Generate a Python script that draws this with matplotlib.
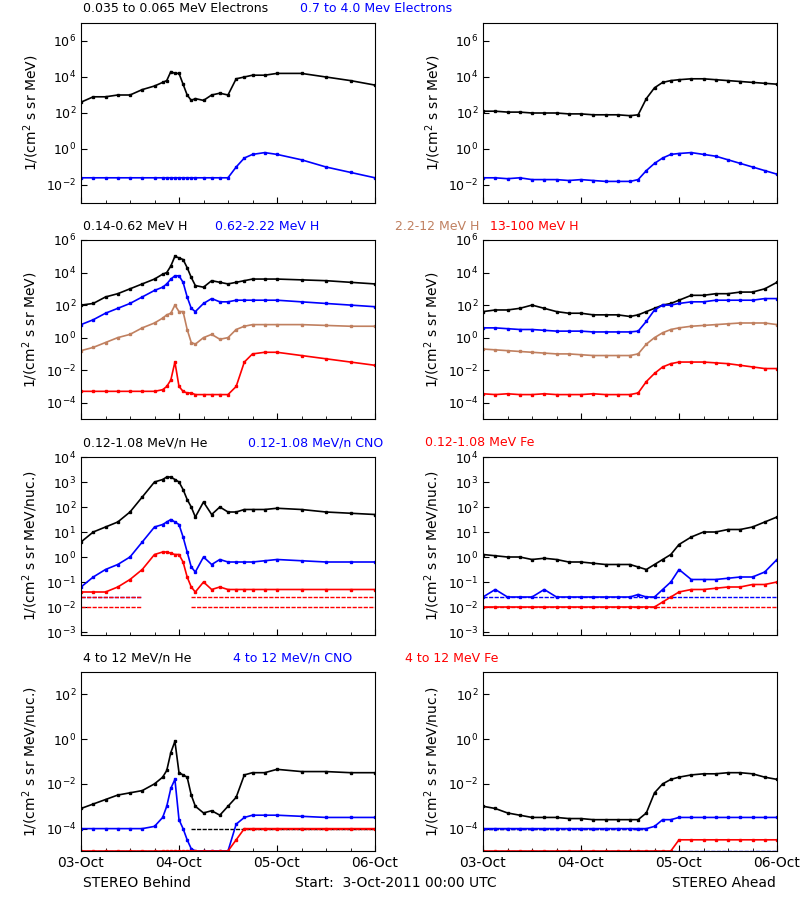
import numpy as np
import matplotlib
matplotlib.use('Agg')
from matplotlib import pyplot as plt

plt.rcParams['font.family'] = 'DejaVu Sans'
plt.rcParams['font.size'] = 9

# hours since 03-Oct-2011 00:00, left = STEREO Behind, right = STEREO Ahead
tL = [0, 3, 6, 9, 12, 15, 18, 20, 21, 22, 23, 24, 25, 26, 27, 28, 30, 32, 34, 36, 38, 40, 42, 45, 48, 54, 60, 66, 72]
tR = [0, 3, 6, 9, 12, 15, 18, 21, 24, 27, 30, 33, 36, 38, 40, 42, 44, 46, 48, 51, 54, 57, 60, 63, 66, 69, 72]

# log10 fluxes
# electrons
eL_lo = [2.6, 2.9, 2.9, 3.0, 3.0, 3.3, 3.5, 3.7, 3.8, 4.3, 4.2, 4.2, 3.6, 3.0, 2.7, 2.8, 2.7, 3.0, 3.1, 3.0, 3.9, 4.0, 4.1, 4.1, 4.2, 4.2, 4.0, 3.8, 3.55]
eL_hi = [-1.6]*19 + [-1.6, -1.0, -0.5, -0.3, -0.2, -0.3, -0.6, -1.0, -1.3, -1.6]
eR_lo = [2.1, 2.1, 2.05, 2.05, 2.0, 2.0, 2.0, 1.95, 1.95, 1.9, 1.9, 1.9, 1.85, 1.9, 2.8, 3.4, 3.7, 3.8, 3.85, 3.9, 3.9, 3.85, 3.8, 3.75, 3.7, 3.65, 3.6]
eR_hi = [-1.6, -1.6, -1.65, -1.6, -1.7, -1.7, -1.7, -1.75, -1.7, -1.75, -1.8, -1.8, -1.8, -1.7, -1.2, -0.8, -0.5, -0.3, -0.25, -0.2, -0.3, -0.4, -0.6, -0.8, -1.0, -1.2, -1.4]

# protons
hL_1 = [2.0, 2.1, 2.5, 2.7, 3.0, 3.3, 3.6, 3.9, 4.0, 4.4, 5.0, 4.9, 4.8, 4.3, 3.7, 3.2, 3.1, 3.5, 3.4, 3.3, 3.4, 3.5, 3.6, 3.6, 3.6, 3.55, 3.5, 3.4, 3.3]
hL_2 = [0.8, 1.1, 1.5, 1.8, 2.1, 2.5, 2.9, 3.1, 3.3, 3.6, 3.8, 3.8, 3.4, 2.5, 1.8, 1.6, 2.1, 2.4, 2.2, 2.2, 2.3, 2.3, 2.3, 2.3, 2.3, 2.2, 2.1, 2.0, 1.9]
hL_3 = [-0.8, -0.6, -0.3, 0.0, 0.2, 0.6, 0.9, 1.2, 1.4, 1.5, 2.0, 1.6, 1.6, 0.5, -0.3, -0.4, 0.0, 0.2, -0.1, 0.0, 0.5, 0.7, 0.8, 0.8, 0.8, 0.8, 0.75, 0.7, 0.7]
hL_4 = [-3.3, -3.3, -3.3, -3.3, -3.3, -3.3, -3.3, -3.2, -3.0, -2.6, -1.5, -3.0, -3.3, -3.4, -3.4, -3.5, -3.5, -3.5, -3.5, -3.5, -3.0, -1.5, -1.0, -0.9, -0.9, -1.1, -1.3, -1.5, -1.7]
hR_1 = [1.6, 1.7, 1.7, 1.8, 2.0, 1.8, 1.6, 1.5, 1.5, 1.4, 1.4, 1.4, 1.3, 1.4, 1.6, 1.8, 2.0, 2.1, 2.3, 2.6, 2.6, 2.7, 2.7, 2.8, 2.8, 3.0, 3.4]
hR_2 = [0.6, 0.6, 0.55, 0.5, 0.5, 0.45, 0.4, 0.4, 0.4, 0.35, 0.35, 0.35, 0.35, 0.4, 1.0, 1.7, 2.0, 2.0, 2.1, 2.2, 2.2, 2.3, 2.3, 2.3, 2.3, 2.4, 2.4]
hR_3 = [-0.7, -0.75, -0.8, -0.85, -0.9, -0.95, -1.0, -1.0, -1.05, -1.1, -1.1, -1.1, -1.1, -1.0, -0.4, 0.0, 0.3, 0.5, 0.6, 0.7, 0.75, 0.8, 0.85, 0.9, 0.9, 0.9, 0.8]
hR_4 = [-3.45, -3.5, -3.45, -3.5, -3.5, -3.45, -3.5, -3.5, -3.5, -3.45, -3.5, -3.5, -3.5, -3.4, -2.7, -2.2, -1.8, -1.6, -1.5, -1.5, -1.5, -1.55, -1.6, -1.7, -1.8, -1.9, -1.9]

# low energy heavy ions
lL_he = [0.6, 1.0, 1.2, 1.4, 1.8, 2.4, 3.0, 3.1, 3.2, 3.2, 3.1, 3.0, 2.7, 2.3, 2.0, 1.6, 2.2, 1.7, 2.0, 1.8, 1.8, 1.9, 1.9, 1.9, 1.95, 1.9, 1.8, 1.75, 1.7]
lL_cno = [-1.2, -0.8, -0.5, -0.3, 0.0, 0.6, 1.2, 1.3, 1.4, 1.5, 1.4, 1.3, 0.8, 0.2, -0.4, -0.6, 0.0, -0.3, -0.1, -0.2, -0.2, -0.2, -0.2, -0.15, -0.1, -0.15, -0.2, -0.2, -0.2]
lL_fe = [-1.4, -1.4, -1.4, -1.2, -0.9, -0.5, 0.1, 0.2, 0.2, 0.15, 0.1, 0.1, -0.2, -0.8, -1.2, -1.4, -1.0, -1.3, -1.2, -1.3, -1.3, -1.3, -1.3, -1.3, -1.3, -1.3, -1.3, -1.3, -1.3]
lR_he = [0.1, 0.05, 0.0, 0.0, -0.1, -0.05, -0.1, -0.2, -0.2, -0.25, -0.3, -0.3, -0.3, -0.4, -0.5, -0.3, -0.1, 0.1, 0.5, 0.8, 1.0, 1.0, 1.1, 1.1, 1.2, 1.4, 1.6]
lR_cno = [-1.6, -1.3, -1.6, -1.6, -1.6, -1.3, -1.6, -1.6, -1.6, -1.6, -1.6, -1.6, -1.6, -1.5, -1.6, -1.6, -1.3, -1.0, -0.5, -0.9, -0.9, -0.9, -0.85, -0.8, -0.8, -0.6, -0.1]
lR_fe = [-2.0]*16 + [-1.8, -1.6, -1.4, -1.3, -1.3, -1.25, -1.2, -1.2, -1.1, -1.1, -1.0]

# high energy heavy ions
gL_he = [-3.1, -2.9, -2.7, -2.5, -2.4, -2.3, -2.0, -1.7, -1.4, -0.6, -0.1, -1.5, -1.6, -1.7, -2.5, -3.0, -3.3, -3.2, -3.4, -3.0, -2.6, -1.6, -1.5, -1.5, -1.35, -1.45, -1.45, -1.5, -1.5]
gL_cno = [-4.0, -4.0, -4.0, -4.0, -4.0, -4.0, -3.9, -3.5, -3.0, -2.2, -1.8, -3.6, -4.0, -4.5, -4.9, -5.0, -5.0, -5.0, -5.0, -5.0, -3.8, -3.5, -3.4, -3.4, -3.4, -3.45, -3.5, -3.5, -3.5]
gL_fe = [-5.0]*20 + [-4.5, -4.0, -4.0, -4.0, -4.0, -4.0, -4.0, -4.0, -4.0]
gR_he = [-3.0, -3.1, -3.3, -3.4, -3.5, -3.5, -3.5, -3.55, -3.55, -3.6, -3.6, -3.6, -3.6, -3.6, -3.3, -2.4, -2.0, -1.8, -1.7, -1.6, -1.55, -1.55, -1.5, -1.5, -1.55, -1.7, -1.8]
gR_cno = [-4.0]*15 + [-3.9, -3.6, -3.6, -3.5, -3.5, -3.5, -3.5, -3.5, -3.5, -3.5, -3.5, -3.5]
gR_fe = [-5.0]*18 + [-4.5, -4.5, -4.5, -4.5, -4.5, -4.5, -4.5, -4.5, -4.5]

# background floor rows (start hour, end hour, log10 level, colour)
floorL3 = [(0, 15, -1.6, 'blue'), (0, 15, -1.6, 'red'), (0, 15, -2.0, 'red'), (27, 72, -1.6, 'red'), (27, 72, -2.0, 'red')]
floorR3 = [(0, 72, -1.6, 'blue'), (0, 72, -2.0, 'red')]
floorL4 = [(0, 30, -5.0, 'blue'), (27, 72, -4.0, 'black'), (40, 72, -4.0, 'red')]
floorR4 = [(0, 40, -4.0, 'black'), (0, 40, -4.0, 'blue'), (0, 72, -5.0, 'blue')]

sienna = '#c08060'
rows = [
    dict(L=[(eL_lo, 'black'), (eL_hi, 'blue')], R=[(eR_lo, 'black'), (eR_hi, 'blue')],
         ylim=(-3, 7), ticks=[-2, 0, 2, 4, 6], unit='MeV', fl=([], []),
         titles=[('0.035 to 0.065 MeV Electrons', 'black', 83), ('0.7 to 4.0 Mev Electrons', 'blue', 300)]),
    dict(L=[(hL_1, 'black'), (hL_2, 'blue'), (hL_3, sienna), (hL_4, 'red')],
         R=[(hR_1, 'black'), (hR_2, 'blue'), (hR_3, sienna), (hR_4, 'red')],
         ylim=(-5, 6), ticks=[-4, -2, 0, 2, 4, 6], unit='MeV', fl=([], []),
         titles=[('0.14-0.62 MeV H', 'black', 83), ('0.62-2.22 MeV H', 'blue', 215),
                 ('2.2-12 MeV H', sienna, 395), ('13-100 MeV H', 'red', 490)]),
    dict(L=[(lL_he, 'black'), (lL_cno, 'blue'), (lL_fe, 'red')],
         R=[(lR_he, 'black'), (lR_cno, 'blue'), (lR_fe, 'red')],
         ylim=(-3.12, 4), ticks=[-3, -2, -1, 0, 1, 2, 3, 4], unit='MeV/nuc.', fl=(floorL3, floorR3),
         titles=[('0.12-1.08 MeV/n He', 'black', 83), ('0.12-1.08 MeV/n CNO', 'blue', 248),
                 ('0.12-1.08 MeV Fe', 'red', 425)]),
    dict(L=[(gL_he, 'black'), (gL_cno, 'blue'), (gL_fe, 'red')],
         R=[(gR_he, 'black'), (gR_cno, 'blue'), (gR_fe, 'red')],
         ylim=(-5, 3), ticks=[-4, -2, 0, 2], unit='MeV/nuc.', fl=(floorL4, floorR4),
         titles=[('4 to 12 MeV/n He', 'black', 83), ('4 to 12 MeV/n CNO', 'blue', 233),
                 ('4 to 12 MeV Fe', 'red', 405)]),
]

# panel vertical extents in pixels (top, bottom)
extents = [(23, 203), (240, 419), (457, 635), (672, 851)]
W, H = 800, 900
fig = plt.figure(figsize=(8, 9), dpi=100)

def fmt(v):
    return '$10^{%d}$' % v

for row, (top, bot) in zip(rows, extents):
    for side, x0, tt, floors in (('L', 81, tL, row['fl'][0]), ('R', 483, tR, row['fl'][1])):
        ax = fig.add_axes([x0 / W, 1 - bot / H, 294 / W, (bot - top) / H])
        for f0, f1, lev, c in floors:
            ax.plot([f0, f1], [10**lev, 10**lev], color=c, lw=1, ls=(0, (3, 1)))
        for vals, c in row[side]:
            ax.plot(tt, 10**np.array(vals), color=c, lw=1.2, marker='s', ms=1.5)
        ax.set_yscale('log')
        ax.set_ylim(10**row['ylim'][0], 10**row['ylim'][1])
        ax.set_xlim(0, 72)
        ax.set_yticks([10.0**k for k in row['ticks']])
        ax.set_yticklabels([fmt(k) for k in row['ticks']])
        ax.yaxis.set_minor_locator(matplotlib.ticker.NullLocator())
        ax.set_xticks([0, 24, 48, 72])
        ax.set_xticks(range(0, 73, 6), minor=True)
        ax.tick_params(direction='in', which='both', length=4)
        ax.tick_params(which='minor', length=2)
        ax.set_ylabel('1/(cm$^2$ s sr %s)' % row['unit'], fontsize=10)
        if top == 672:
            ax.set_xticklabels(['03-Oct', '04-Oct', '05-Oct', '06-Oct'], fontsize=10)
        else:
            ax.set_xticklabels([])
    for txt, c, xp in row['titles']:
        fig.text(xp / W, 1 - (top - 14) / H, txt, color=c, fontsize=9, va='center')

fig.text(83 / W, 1 - 883 / H, 'STEREO Behind', fontsize=10, va='center')
fig.text(295 / W, 1 - 883 / H, 'Start:  3-Oct-2011 00:00 UTC', fontsize=10, va='center')
fig.text(776 / W, 1 - 883 / H, 'STEREO Ahead', fontsize=10, va='center', ha='right')

fig.savefig('out.png', dpi=100)
